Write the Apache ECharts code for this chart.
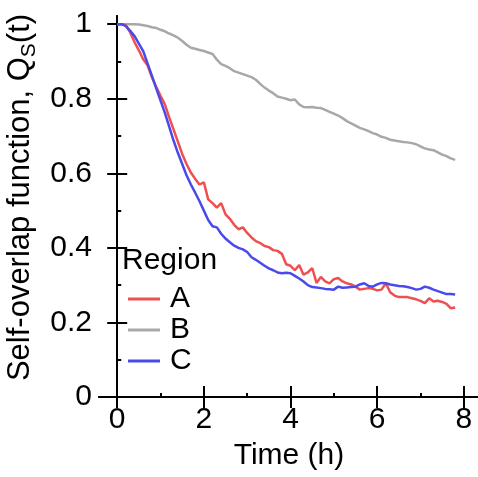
<!DOCTYPE html>
<html>
<head>
    <meta charset="utf-8">
    <title>ECharts</title>
    <script src="https://cdn.jsdelivr.net/npm/echarts@6/dist/echarts.min.js"></script>
    <style>
        body { margin: 0; }
    </style>
</head>
<body>
    <div id="main" style="width:478px; height:477px;"></div>
    <script>
        // time axis, hours
        var time = [
            0.0, 0.1, 0.2, 0.3, 0.4, 0.5, 0.6, 0.7, 0.8, 0.9,
            1.0, 1.1, 1.2, 1.3, 1.4, 1.5, 1.6, 1.7, 1.8, 1.9,
            2.0, 2.1, 2.2, 2.3, 2.4, 2.5, 2.6, 2.7, 2.8, 2.9,
            3.0, 3.1, 3.2, 3.3, 3.4, 3.5, 3.6, 3.7, 3.8, 3.9,
            4.0, 4.1, 4.2, 4.3, 4.4, 4.5, 4.6, 4.7, 4.8, 4.9,
            5.0, 5.1, 5.2, 5.3, 5.4, 5.5, 5.6, 5.7, 5.8, 5.9,
            6.0, 6.1, 6.2, 6.3, 6.4, 6.5, 6.6, 6.7, 6.8, 6.9,
            7.0, 7.1, 7.2, 7.3, 7.4, 7.5, 7.6, 7.7, 7.8
        ]

        var regionA = [
            1.000, 1.000, 0.997, 0.978, 0.952, 0.930, 0.906, 0.890, 0.858, 0.832,
            0.808, 0.785, 0.750, 0.718, 0.685, 0.652, 0.625, 0.602, 0.585, 0.570,
            0.576, 0.530, 0.520, 0.508, 0.520, 0.490, 0.478, 0.462, 0.450, 0.455,
            0.440, 0.428, 0.418, 0.413, 0.405, 0.402, 0.394, 0.392, 0.384, 0.356,
            0.352, 0.340, 0.354, 0.328, 0.334, 0.346, 0.306, 0.322, 0.310, 0.305,
            0.316, 0.319, 0.310, 0.305, 0.302, 0.296, 0.288, 0.290, 0.292, 0.290,
            0.286, 0.288, 0.305, 0.281, 0.272, 0.268, 0.268, 0.268, 0.265, 0.262,
            0.258, 0.252, 0.265, 0.256, 0.258, 0.255, 0.250, 0.238, 0.240
        ]

        var regionB = [
            1.000, 1.000, 1.000, 1.000, 1.000, 0.999, 0.997, 0.995, 0.992, 0.990,
            0.985, 0.981, 0.975, 0.970, 0.964, 0.955, 0.945, 0.937, 0.934, 0.931,
            0.928, 0.924, 0.920, 0.905, 0.893, 0.888, 0.882, 0.874, 0.870, 0.866,
            0.862, 0.858, 0.851, 0.840, 0.830, 0.822, 0.815, 0.806, 0.803, 0.800,
            0.796, 0.798, 0.785, 0.778, 0.777, 0.778, 0.776, 0.775, 0.770, 0.765,
            0.760, 0.755, 0.748, 0.740, 0.734, 0.728, 0.722, 0.718, 0.713, 0.708,
            0.704, 0.698, 0.695, 0.690, 0.688, 0.686, 0.684, 0.683, 0.681, 0.678,
            0.672, 0.667, 0.664, 0.662, 0.656, 0.650, 0.646, 0.640, 0.636
        ]

        var regionC = [
            1.000, 1.000, 0.995, 0.982, 0.968, 0.948, 0.928, 0.895, 0.862, 0.828,
            0.795, 0.762, 0.725, 0.688, 0.655, 0.625, 0.595, 0.570, 0.548, 0.525,
            0.500, 0.475, 0.458, 0.455, 0.438, 0.425, 0.415, 0.406, 0.400, 0.396,
            0.389, 0.375, 0.368, 0.360, 0.352, 0.345, 0.340, 0.334, 0.332, 0.333,
            0.332, 0.325, 0.318, 0.310, 0.300, 0.295, 0.294, 0.292, 0.290, 0.289,
            0.288, 0.296, 0.293, 0.294, 0.295, 0.296, 0.302, 0.305, 0.298, 0.296,
            0.302, 0.306, 0.305, 0.302, 0.300, 0.298, 0.297, 0.295, 0.292, 0.288,
            0.290, 0.296, 0.293, 0.288, 0.284, 0.280, 0.276, 0.276, 0.275
        ]

        var xTicks = [0, 2, 4, 6, 8]
        var xMinorTicks = [1, 3, 5, 7]
        var yTicks = [0, 0.2, 0.4, 0.6, 0.8, 1]
        var yMinorTicks = [0.1, 0.3, 0.5, 0.7, 0.9]

        var font = 'Liberation Sans, Arial, sans-serif'
        var colorA = '#ef4f4f'
        var colorB = '#a8a8a8'
        var colorC = '#4a4aec'

        var pairs = function(xs, ys) {
            var out = []
            for (var i = 0; i < xs.length; i++) {
                out.push([xs[i], ys[i]])
            }
            return out
        }

        var xAxisBase = function(position, ticks, len, showLabel, showLine) {
            return {
                type: 'value',
                position: position,
                min: -0.42,
                max: 8.35,
                splitLine: {show: false},
                axisLine: {show: showLine, lineStyle: {color: '#000', width: 2}},
                axisTick: {
                    show: true, inside: true, length: len,
                    customValues: ticks,
                    lineStyle: {color: '#000', width: 2}
                },
                axisLabel: {
                    show: showLabel, customValues: ticks,
                    fontSize: 30, fontFamily: font, color: '#000', margin: 8
                }
            }
        }

        var yAxisBase = function(position, ticks, len, showLabel, showLine) {
            return {
                type: 'value',
                position: position,
                min: 0,
                max: 1.022,
                splitLine: {show: false},
                axisLine: {show: showLine, lineStyle: {color: '#000', width: 2}},
                axisTick: {
                    show: true, inside: true, length: len,
                    customValues: ticks,
                    lineStyle: {color: '#000', width: 2}
                },
                axisLabel: {
                    show: showLabel, customValues: ticks,
                    fontSize: 30, fontFamily: font, color: '#000', margin: 7
                }
            }
        }

        var xMain = xAxisBase('bottom', xTicks, 11, true, true)
        xMain.name = 'Time (h)'
        xMain.nameLocation = 'middle'
        xMain.nameGap = 44
        xMain.nameTextStyle = {fontSize: 30, fontFamily: font, color: '#000'}

        var yMain = yAxisBase('left', yTicks, 10, true, true)
        yMain.name = 'Self-overlap function, Q{sub|S}(t)'
        yMain.nameLocation = 'middle'
        yMain.nameGap = 58
        yMain.nameTextStyle = {
            fontSize: 31, fontFamily: font, color: '#000', lineHeight: 38,
            padding: [0, 0, 0, 18],
            rich: {
                sub: {fontSize: 21, fontFamily: font, color: '#000', verticalAlign: 'bottom', lineHeight: 21}
            }
        }

        var myChart = echarts.init(document.querySelector('#main'))

        var option = {
            animation: false,
            grid: {left: 99, right: -1, top: 16, bottom: 80, containLabel: false, outerBoundsMode: 'none'},
            title: {
                text: 'Region',
                left: 122,
                top: 246,
                padding: 0,
                textStyle: {fontSize: 30, fontWeight: 'normal', fontFamily: font, color: '#000'}
            },
            legend: {
                data: ['A', 'B', 'C'],
                orient: 'vertical',
                left: 128,
                top: 284,
                padding: 0,
                icon: 'rect',
                itemWidth: 32,
                itemHeight: 3,
                itemGap: 1,
                textStyle: {fontSize: 30, lineHeight: 30, fontFamily: font, color: '#000', padding: [0, 0, 0, 5]}
            },
            xAxis: [
                xMain,
                xAxisBase('bottom', xMinorTicks, 4, false, false),
                xAxisBase('top', xTicks, 11, false, true)
            ],
            yAxis: [
                yMain,
                yAxisBase('left', yMinorTicks, 4, false, false),
                yAxisBase('right', yTicks, 10, false, true)
            ],
            series: [
                {
                    name: 'A', type: 'line', data: pairs(time, regionA),
                    symbol: 'none', color: colorA, lineStyle: {color: colorA, width: 2.5}, z: 3
                },
                {
                    name: 'B', type: 'line', data: pairs(time, regionB),
                    symbol: 'none', color: colorB, lineStyle: {color: colorB, width: 2.5}, z: 2
                },
                {
                    name: 'C', type: 'line', data: pairs(time, regionC),
                    symbol: 'none', color: colorC, lineStyle: {color: colorC, width: 2.5}, z: 4
                }
            ]
        }

        myChart.setOption(option)
    </script>
</body>
</html>
